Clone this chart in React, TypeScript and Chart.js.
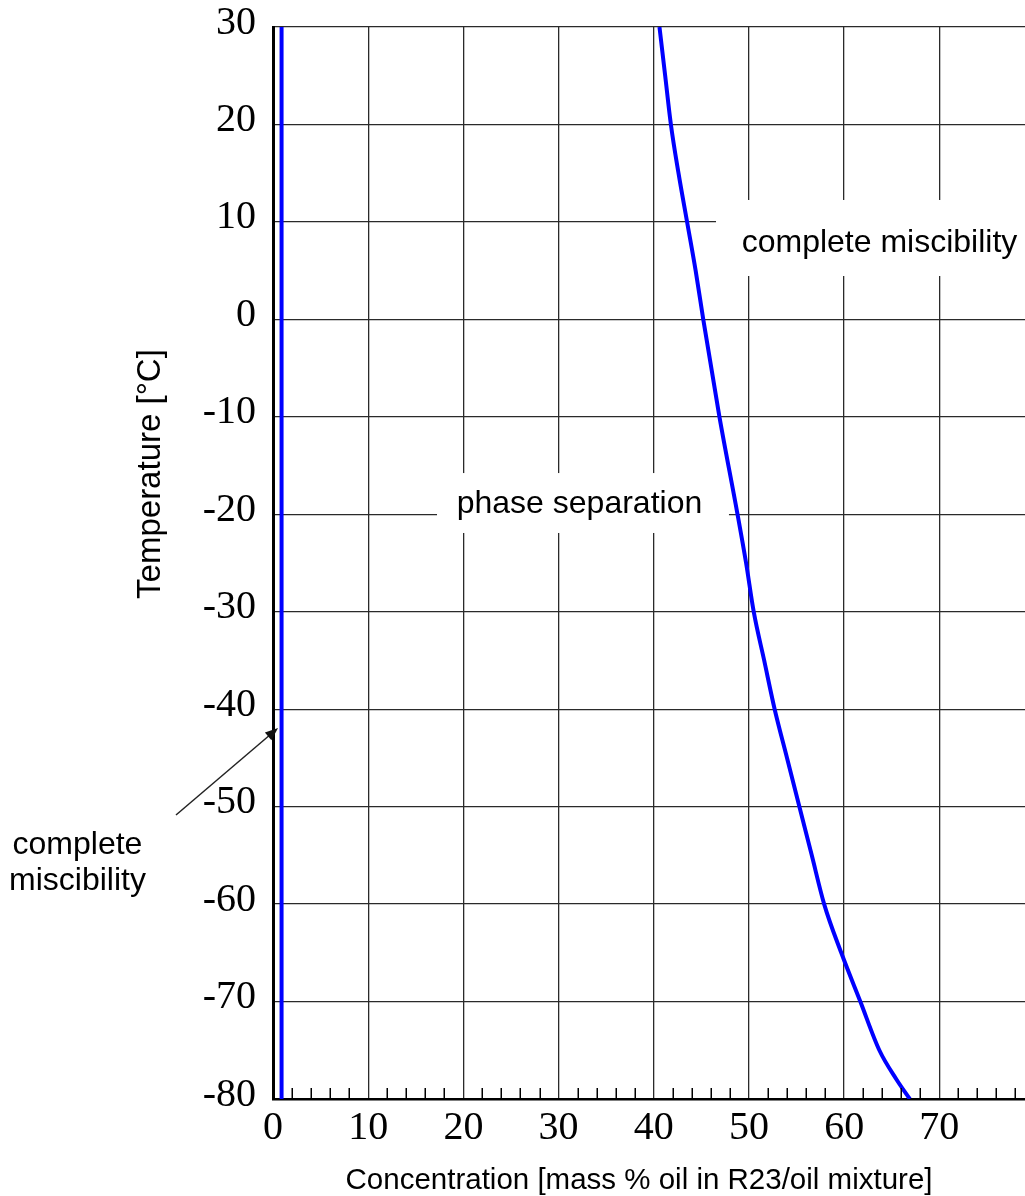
import React, { useEffect, useRef } from "react";
import { Chart, registerables } from "chart.js";

Chart.register(...registerables);

// ---- axis ranges & ticks ----
const X_MIN = 0;
const X_MAX = 79;
const Y_MIN = -80;
const Y_MAX = 30;
const X_MAJOR_TICKS = [0, 10, 20, 30, 40, 50, 60, 70];
const X_MINOR_TICKS = [
  2, 4, 6, 8, 12, 14, 16, 18, 22, 24, 26, 28, 32, 34, 36, 38, 42, 44, 46, 48,
  52, 54, 56, 58, 62, 64, 66, 68, 72, 74, 76, 78,
];
const Y_TICKS = [-80, -70, -60, -50, -40, -30, -20, -10, 0, 10, 20, 30];

// ---- series ----
// left boundary (near-pure R23)
const LEFT_CONC = [0.9, 0.9];
const LEFT_TEMP = [-80, 30];
// right boundary of the miscibility gap
const CURVE_TEMP = [30, 25, 20, 15, 10, 5, 0, -10, -20, -25, -30, -35, -40, -45, -50, -55, -60, -65, -70, -75, -78, -80];
const CURVE_CONC = [40.6, 41.2, 41.8, 42.6, 43.5, 44.4, 45.2, 46.9, 48.8, 49.7, 50.5, 51.6, 52.7, 54.0, 55.3, 56.6, 57.9, 59.7, 61.7, 63.7, 65.5, 66.9];

// ---- text ----
const X_TITLE = "Concentration [mass % oil in R23/oil mixture]";
const Y_TITLE = "Temperature [°C]";
const NOTE_TOP = "complete miscibility";
const NOTE_MID = "phase separation";
const NOTE_LEFT = ["complete", "miscibility"];

const SANS = "'Liberation Sans', Arial, sans-serif";
const SERIF = "'Liberation Serif', 'Times New Roman', serif";

const overlayPlugin = {
  id: "overlay",
  beforeDatasetsDraw(chart: any) {
    const { ctx } = chart;
    const x = chart.scales.x;
    const y = chart.scales.y;
    ctx.save();
    ctx.fillStyle = "#ffffff";
    const boxes = [
      [46.54, X_MAX, 12.25, 4.45],
      [17.23, 47.69, -15.77, -21.92],
    ];
    for (const [a, b, c, d] of boxes) {
      const x0 = x.getPixelForValue(a);
      const x1 = x.getPixelForValue(b) + 2;
      const y0 = y.getPixelForValue(c);
      const y1 = y.getPixelForValue(d);
      ctx.fillRect(x0, y0, x1 - x0, y1 - y0);
    }
    ctx.restore();
  },
  afterDatasetsDraw(chart: any) {
    const { ctx, chartArea } = chart;
    const x = chart.scales.x;
    const y = chart.scales.y;
    ctx.save();
    // minor ticks on bottom axis
    ctx.strokeStyle = "#000";
    ctx.lineWidth = 1.5;
    ctx.beginPath();
    for (const v of X_MINOR_TICKS) {
      const px = Math.round(x.getPixelForValue(v)) + 0.25;
      ctx.moveTo(px, chartArea.bottom);
      ctx.lineTo(px, chartArea.bottom - 11);
    }
    ctx.stroke();

    // annotations
    ctx.fillStyle = "#000";
    ctx.font = `32px ${SANS}`;
    ctx.textBaseline = "alphabetic";
    ctx.textAlign = "left";
    ctx.fillText(NOTE_TOP, x.getPixelForValue(49.24), y.getPixelForValue(6.94));
    ctx.fillText(NOTE_MID, x.getPixelForValue(19.3), y.getPixelForValue(-19.9));
    ctx.textAlign = "center";
    ctx.fillText(NOTE_LEFT[0], x.getPixelForValue(-20.54), y.getPixelForValue(-54.89));
    ctx.fillText(NOTE_LEFT[1], x.getPixelForValue(-20.54), y.getPixelForValue(-58.56));

    // arrow
    const tx = x.getPixelForValue(0.53);
    const ty = y.getPixelForValue(-41.93);
    const sx = x.getPixelForValue(-10.19);
    const sy = y.getPixelForValue(-50.86);
    const ang = Math.atan2(ty - sy, tx - sx);
    const hl = 13;
    const hw = 5;
    ctx.strokeStyle = "#222";
    ctx.lineWidth = 1.5;
    ctx.beginPath();
    ctx.moveTo(sx, sy);
    ctx.lineTo(tx - Math.cos(ang) * hl * 0.8, ty - Math.sin(ang) * hl * 0.8);
    ctx.stroke();
    ctx.fillStyle = "#111";
    ctx.beginPath();
    ctx.moveTo(tx, ty);
    ctx.lineTo(
      tx - Math.cos(ang) * hl + Math.sin(ang) * hw,
      ty - Math.sin(ang) * hl - Math.cos(ang) * hw
    );
    ctx.lineTo(
      tx - Math.cos(ang) * hl - Math.sin(ang) * hw,
      ty - Math.sin(ang) * hl + Math.cos(ang) * hw
    );
    ctx.closePath();
    ctx.fill();

    // axis titles
    ctx.fillStyle = "#000";
    ctx.font = `29.5px ${SANS}`;
    ctx.textAlign = "center";
    ctx.fillText(X_TITLE, x.getPixelForValue(38.45), chartArea.bottom + 90);
    ctx.font = `33px ${SANS}`;
    ctx.translate(chartArea.left - 113, y.getPixelForValue(-15.87));
    ctx.rotate(-Math.PI / 2);
    ctx.fillText(Y_TITLE, 0, 0);
    ctx.restore();
  },
};

export default function App() {
  const canvasRef = useRef<HTMLCanvasElement | null>(null);

  useEffect(() => {
    const canvas = canvasRef.current;
    if (!canvas) return;
    const chart = new Chart(canvas, {
      type: "scatter",
      data: {
        datasets: [
          {
            data: LEFT_CONC.map((c, i) => ({ x: c, y: LEFT_TEMP[i] })),
            showLine: true,
            borderColor: "#0000ff",
            borderWidth: 4,
            pointRadius: 0,
            tension: 0,
          },
          {
            data: CURVE_CONC.map((c, i) => ({ x: c, y: CURVE_TEMP[i] })),
            showLine: true,
            borderColor: "#0000ff",
            borderWidth: 4,
            pointRadius: 0,
            cubicInterpolationMode: "monotone",
          },
        ],
      },
      options: {
        animation: false,
        responsive: false,
        devicePixelRatio: 1,
        layout: { padding: { top: 27, left: 0, right: 0, bottom: 0 } },
        plugins: {
          legend: { display: false },
          tooltip: { enabled: false },
          title: { display: false },
        },
        scales: {
          x: {
            type: "linear",
            min: X_MIN,
            max: X_MAX,
            afterBuildTicks: (s: any) => {
              s.ticks = X_MAJOR_TICKS.map((v) => ({ value: v }));
            },
            afterFit: (s: any) => {
              s.height = 97;
              s.paddingLeft = 0;
              s.paddingRight = 0;
            },
            grid: {
              color: "#2a2a2a",
              lineWidth: 1.3,
              drawTicks: false,
            },
            border: { display: true, color: "#000", width: 2.5 },
            ticks: {
              color: "#000",
              font: { family: SERIF, size: 40 },
              padding: 5,
              maxRotation: 0,
              autoSkip: false,
              callback: (v: any) => String(v),
            },
          },
          y: {
            type: "linear",
            min: Y_MIN,
            max: Y_MAX,
            afterBuildTicks: (s: any) => {
              s.ticks = Y_TICKS.map((v) => ({ value: v }));
            },
            afterFit: (s: any) => {
              s.width = 273;
              s.paddingTop = 0;
              s.paddingBottom = 0;
            },
            grid: {
              color: "#2a2a2a",
              lineWidth: 1.3,
              drawTicks: false,
            },
            border: { display: true, color: "#000", width: 3 },
            ticks: {
              color: "#000",
              font: { family: SERIF, size: 40 },
              padding: 17,
              labelOffset: -4,
              autoSkip: false,
              callback: (v: any) => String(v),
            },
          },
        },
      },
      plugins: [overlayPlugin],
    });
    return () => chart.destroy();
  }, []);

  return (
    <div style={{ position: "absolute", left: 0, top: 0, width: 1025, height: 1196, background: "#fff" }}>
      <canvas ref={canvasRef} width={1025} height={1196} style={{ width: 1025, height: 1196, display: "block" }} />
    </div>
  );
}
